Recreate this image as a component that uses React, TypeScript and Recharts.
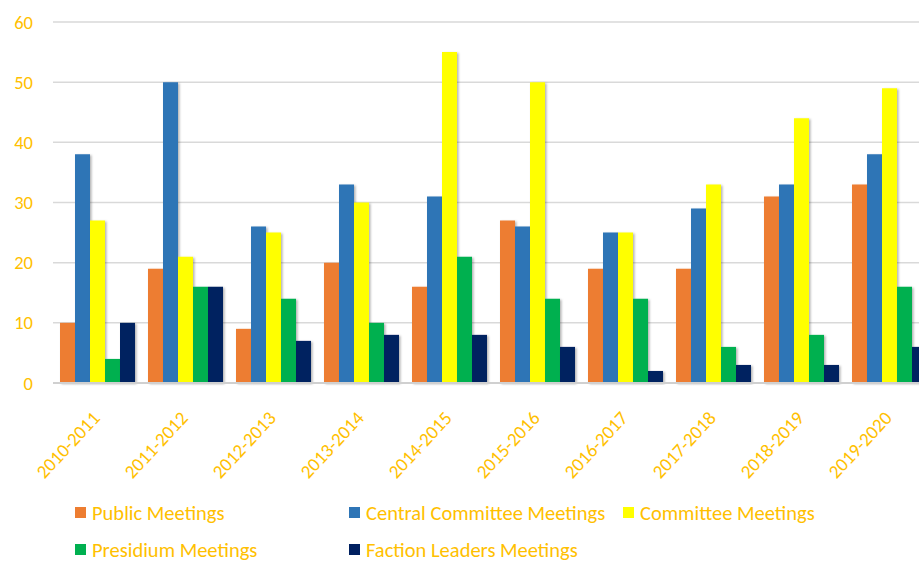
import React from "react";
import { BarChart, Bar, XAxis, YAxis, CartesianGrid, Legend } from "recharts";

const years = [
  "2010-2011", "2011-2012", "2012-2013", "2013-2014", "2014-2015",
  "2015-2016", "2016-2017", "2017-2018", "2018-2019", "2019-2020",
];
const publicMeetings = [10, 19, 9, 20, 16, 27, 19, 19, 31, 33];
const centralCommittee = [38, 50, 26, 33, 31, 26, 25, 29, 33, 38];
const committee = [27, 21, 25, 30, 55, 50, 25, 33, 44, 49];
const presidium = [4, 16, 14, 10, 21, 14, 14, 6, 8, 16];
const factionLeaders = [10, 16, 7, 8, 8, 6, 2, 3, 3, 6];
const yTicks = [0, 10, 20, 30, 40, 50, 60];

const series = [
  { key: "pub", name: "Public Meetings", color: "#ED7D31" },
  { key: "central", name: "Central Committee Meetings", color: "#2E75B6" },
  { key: "comm", name: "Committee Meetings", color: "#FFFF00" },
  { key: "pres", name: "Presidium Meetings", color: "#00B050" },
  { key: "fact", name: "Faction Leaders Meetings", color: "#002060" },
];

const data = years.map((y, i) => ({
  year: y,
  pub: publicMeetings[i],
  central: centralCommittee[i],
  comm: committee[i],
  pres: presidium[i],
  fact: factionLeaders[i],
}));

const FONT = "Carlito, Calibri, Lato, sans-serif";
const TEXT = "#FFC000";

const YearTick = (props: any) => {
  const { x, y, payload } = props;
  const tx = x + 4;
  const ty = y + 28;
  return (
    <text
      x={tx}
      y={ty}
      textAnchor="end"
      fill={TEXT}
      fontSize={19}
      fontFamily={FONT}
      transform={`rotate(-47, ${tx}, ${ty})`}
    >
      {payload.value}
    </text>
  );
};

const LegendBox = () => {
  const rows = [series.slice(0, 3), series.slice(3)];
  return (
    <div style={{ height: 80, paddingTop: 12, boxSizing: "border-box" }}>
      {rows.map((row, r) => (
        <div key={r} style={{ display: "flex", height: 37, alignItems: "center", marginLeft: 75 }}>
          {row.map((s) => (
            <div key={s.key} style={{ width: 274, display: "flex", alignItems: "center" }}>
              <span style={{ width: 11, height: 11, background: s.color, marginRight: 6, display: "inline-block" }} />
              <span style={{ color: TEXT, fontSize: 20.5, lineHeight: "24px", fontFamily: FONT, whiteSpace: "nowrap" }}>{s.name}</span>
            </div>
          ))}
        </div>
      ))}
    </div>
  );
};

export default function App() {
  return (
    <div style={{ position: "absolute", left: 0, top: 0, width: 919, height: 562, overflow: "hidden", background: "#fff" }}>
      <BarChart
        width={940}
        height={562}
        data={data}
        margin={{ top: 22, right: 7, left: 0, bottom: 0 }}
        barCategoryGap={7}
        barGap={0}
      >
        <defs>
          <filter id="barShadow" x="-20%" y="-5%" width="150%" height="115%">
            <feDropShadow dx="1.5" dy="1" stdDeviation="1.2" floodColor="#000" floodOpacity="0.3" />
          </filter>
        </defs>
        <CartesianGrid vertical={false} stroke="#D9D9D9" strokeWidth={1.5} />
        <XAxis
          dataKey="year"
          interval={0}
          height={99}
          tick={<YearTick />}
          tickLine={false}
          axisLine={{ stroke: "#D0D0D0", strokeWidth: 2 }}
        />
        <YAxis
          width={53}
          domain={[0, 60]}
          ticks={yTicks}
          tickLine={false}
          axisLine={false}
          tickSize={0}
          tickMargin={20}
          tick={{ fill: TEXT, fontSize: 18.5, fontFamily: FONT }}
        />
        <Legend verticalAlign="bottom" content={<LegendBox />} />
        {series.map((s) => (
          <Bar
            key={s.key}
            dataKey={s.key}
            name={s.name}
            fill={s.color}
            filter="url(#barShadow)"
            isAnimationActive={false}
          />
        ))}
      </BarChart>
    </div>
  );
}
